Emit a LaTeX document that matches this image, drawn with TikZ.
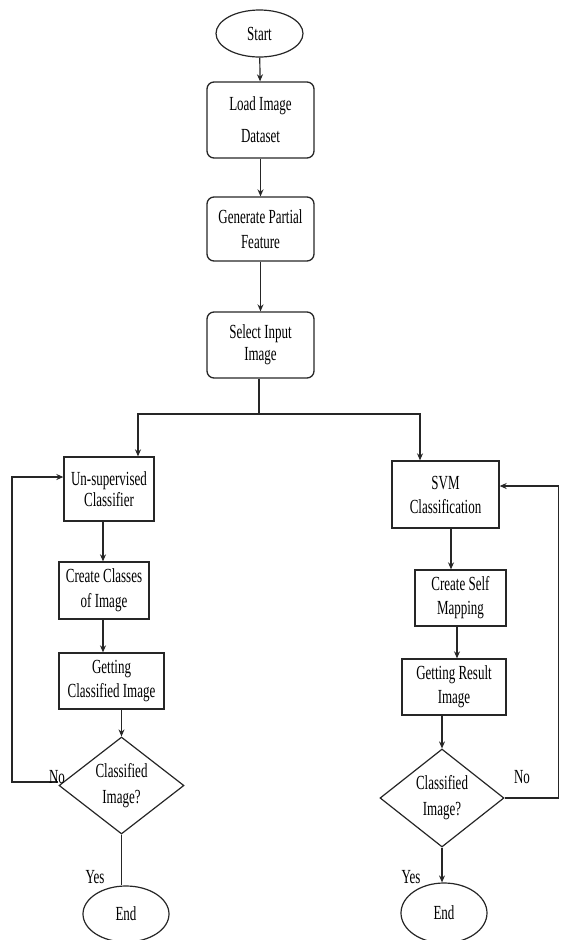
\documentclass[tikz,border=0pt]{standalone}
\usepackage{fontspec}
\setmainfont{Liberation Serif}[FakeStretch=0.65]
\usetikzlibrary{shapes.geometric,arrows.meta}
\begin{document}
\begin{tikzpicture}[x=1pt,y=-1pt,
  every node/.style={font=\fontsize{20}{24}\selectfont, align=center, inner sep=0pt, text=black},
  proc/.style={draw=black!85, line width=1.3pt, rectangle},
  rproc/.style={proc, rounded corners=7pt},
  term/.style={draw=black!85, line width=1.2pt, ellipse},
  dec/.style={draw=black!85, line width=1.2pt, diamond, aspect=1.3},
  ln/.style={draw=black!85, line width=1.2pt},
  arr/.style={ln, -{Stealth[length=7pt,width=6pt]}},
  lbl/.style={font=\fontsize{20}{24}\selectfont}]
\useasboundingbox (0,0) rectangle (560,940);

% top chain
\node[term, minimum width=87pt, minimum height=47pt] (start) at (259.5,33.5) {Start};
\node[rproc, minimum width=107pt, minimum height=76pt, font=\fontsize{20}{32}\selectfont] (load) at (260.5,120) {Load Image\\Dataset};
\node[rproc, minimum width=107pt, minimum height=64pt, font=\fontsize{20}{25}\selectfont] (gen) at (260.5,229) {Generate Partial\\Feature};
\node[rproc, minimum width=107pt, minimum height=66pt, font=\fontsize{20}{22}\selectfont] (sel) at (260.5,345) {Select Input\\Image};

% left branch
\node[proc, minimum width=90pt, minimum height=64pt, font=\fontsize{20}{21}\selectfont] (uc) at (109,489) {Un-supervised\\Classifier};
\node[proc, minimum width=90pt, minimum height=57pt, font=\fontsize{20}{25}\selectfont] (cc) at (104,590.5) {Create Classes\\of Image};
\node[proc, minimum width=105pt, minimum height=56pt, font=\fontsize{20}{24}\selectfont] (gci) at (111.5,681) {Getting\\Classified Image};
\node[dec, minimum width=125pt, minimum height=97pt, font=\fontsize{20}{26}\selectfont] (d1) at (121.5,785.5) {Classified\\Image?};
\node[term, minimum width=86pt, minimum height=56pt] (end1) at (126,914) {End};

% right branch
\node[proc, minimum width=107pt, minimum height=67pt, font=\fontsize{20}{24}\selectfont] (svm) at (445.5,494.5) {SVM\\Classification};
\node[proc, minimum width=91pt, minimum height=56pt, font=\fontsize{20}{24}\selectfont] (csm) at (460.5,598) {Create Self\\Mapping};
\node[proc, minimum width=104pt, minimum height=56pt, font=\fontsize{20}{24}\selectfont] (gri) at (454,687) {Getting Result\\Image};
\node[dec, minimum width=124pt, minimum height=98pt, font=\fontsize{20}{26}\selectfont] (d2) at (442,798) {Classified\\Image?};
\node[term, minimum width=86pt, minimum height=60pt] (end2) at (444,913) {End};

% connectors top
\draw[arr] (start) -- (load);
\draw[arr] (load) -- (gen);
\draw[arr] (gen) -- (sel);
\coordinate (split) at (259,414);
\coordinate (sl) at (138,414);
\coordinate (sr) at (420,414);
\draw[ln] ([xshift=-1.5pt]sel.south) -- (split);
\draw[arr] (split) -- (sl) -- (sl |- uc.north);
\draw[arr] (split) -- (sr) -- (sr |- svm.north);

% left chain
\draw[arr] ([xshift=-6pt]uc.south) -- ([xshift=-6pt]uc.south |- cc.north);
\draw[arr] ([xshift=-1pt]cc.south) -- ([xshift=-1pt]cc.south |- gci.north);
\draw[arr] (gci.south -| d1.north) -- (d1.north);
\draw[ln] (d1.south) -- (end1.north -| d1.south);
\coordinate (lx) at (12,782);
\coordinate (lt) at (12,477);
\draw[arr] ([yshift=3.5pt]d1.west) -- (lx) -- (lt) -- ([yshift=12pt]uc.west);

% right chain
\draw[arr] ([xshift=5.5pt]svm.south) -- ([xshift=5.5pt]svm.south |- csm.north);
\draw[arr] ([xshift=-3.5pt]csm.south) -- ([xshift=-3.5pt]csm.south |- gri.north);
\draw[arr] (gri.south -| d2.north) -- (d2.north);
\draw[arr] (d2.south) -- (end2.north -| d2.south);
\coordinate (rx) at (558.5,798);
\coordinate (rt) at (558.5,486);
\draw[arr] (d2.east) -- (rx) -- (rt) -- ([yshift=8.5pt]svm.east);

% labels
\node[lbl] (no1) at (57,777) {No};
\node[lbl] (yes1) at (95,877) {Yes};
\node[lbl] (no2) at (522,777) {No};
\node[lbl] (yes2) at (411,877) {Yes};
\end{tikzpicture}
\end{document}
